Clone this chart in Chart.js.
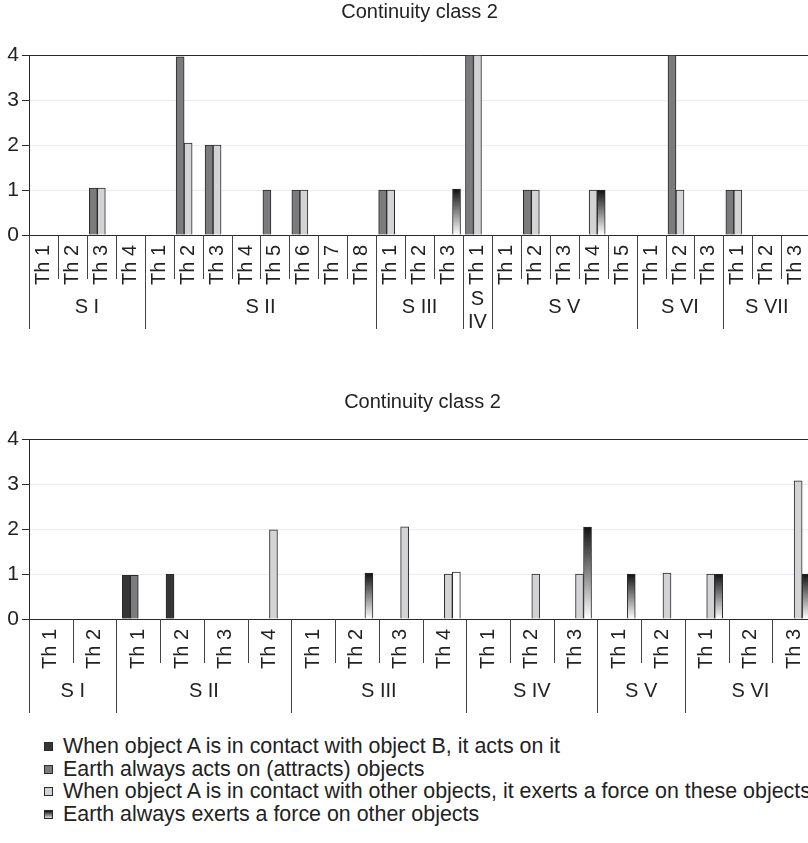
<!DOCTYPE html>
<html>
<head>
<meta charset="utf-8">
<title>Continuity class 2</title>
<script src="https://cdn.jsdelivr.net/npm/chart.js@4.4.1/dist/chart.umd.min.js"></script>
<style>
  html, body { margin: 0; padding: 0; background: #fff; width: 808px; height: 843px; overflow: hidden; }
  body { position: relative; font-family: 'Liberation Sans', Arial, Helvetica, sans-serif; color: #222; }
  .panel { position: absolute; left: 0; width: 830px; height: 340px; }
  #topPanel { top: 0; }
  #bottomPanel { top: 384px; }
  #legend { position: absolute; left: 44px; top: 735px; font-size: 21.4px; line-height: 22.7px; white-space: nowrap; }
  .item { position: relative; padding-left: 19px; }
  .box { position: absolute; left: 0; top: 7px; width: 7px; height: 7px; border: 1px solid #2a2a2a; }
</style>
</head>
<body>
<div class="panel" id="topPanel"><canvas id="topChart" width="830" height="340"></canvas></div>
<div class="panel" id="bottomPanel"><canvas id="bottomChart" width="830" height="340"></canvas></div>
<div id="legend"></div>

<script>
// Séries (légende commune aux deux graphiques)
const seriesNames = [
    'When object A is in contact with object B, it acts on it',
    'Earth always acts on (attracts) objects',
    'When object A is in contact with other objects, it exerts a force on these objects',
    'Earth always exerts a force on other objects'
];

// Graphique du haut
const topTitle = 'Continuity class 2';
const topLabels = [
    'Th 1', 'Th 2', 'Th 3', 'Th 4',
    'Th 1', 'Th 2', 'Th 3', 'Th 4', 'Th 5', 'Th 6', 'Th 7', 'Th 8',
    'Th 1', 'Th 2', 'Th 3',
    'Th 1',
    'Th 1', 'Th 2', 'Th 3', 'Th 4', 'Th 5',
    'Th 1', 'Th 2', 'Th 3',
    'Th 1', 'Th 2', 'Th 3'
];
const topGroupNames = ['S I', 'S II', 'S III', 'S IV', 'S V', 'S VI', 'S VII'];
const topGroupSizes = [4, 8, 3, 1, 5, 3, 3];
const topS1 = [null, null, null, null, null, null, null, null, null, null, null, null, null, null, null, null, null, null, null, null, null, null, null, null, null, null, null];
const topS2 = [null, null, 1.04, null, null, 3.96, 2, null, 1, 1, null, null, 1, null, null, 4, null, 1, null, null, null, null, 4, null, 1, null, null];
const topS3 = [null, null, 1.04, null, null, 2.04, 2, null, null, 1, null, null, 1, null, null, 4, null, 1, null, 1, null, null, 1, null, 1, null, null];
const topS4 = [null, null, null, null, null, null, null, null, null, null, null, null, null, null, 1.02, null, null, null, null, 1, null, null, null, null, null, null, null];
// cinquième série vide du classeur d'origine (garde la place dans chaque groupe)
const topS5 = [];

// Graphique du bas
const bottomTitle = 'Continuity class 2';
const bottomLabels = [
    'Th 1', 'Th 2',
    'Th 1', 'Th 2', 'Th 3', 'Th 4',
    'Th 1', 'Th 2', 'Th 3', 'Th 4',
    'Th 1', 'Th 2', 'Th 3',
    'Th 1', 'Th 2',
    'Th 1', 'Th 2', 'Th 3'
];
const bottomGroupNames = ['S I', 'S II', 'S III', 'S IV', 'S V', 'S VI'];
const bottomGroupSizes = [2, 4, 4, 3, 2, 3];
const bottomS1 = [null, null, 0.97, 0.99, null, null, null, null, null, null, null, null, null, null, null, null, null, null];
const bottomS2 = [null, null, 0.97, null, null, null, null, null, null, null, null, null, null, null, null, null, null, null];
const bottomS3 = [null, null, null, null, null, 1.98, null, null, 2.05, 1, null, 1, 1, null, 1.02, 1, null, 3.07];
const bottomS4 = [null, null, null, null, null, null, null, 1.02, null, 1.04, null, null, 2.04, 1, null, 1, null, 1];

const yTicks = [0, 1, 2, 3, 4];

Chart.defaults.font.family = "'Liberation Sans', Arial, Helvetica, sans-serif";
Chart.defaults.color = '#222';

const ink = '#2a2a2a';
const seriesColors = ['#363636', '#7b7b7d', '#d3d3d5'];

// Dégradé vertical noir -> blanc pour chaque barre
function fadeFill(c) {
    const chart = c.chart;
    const y = chart.scales.y;
    if (c.type !== 'data' || !y || !c.parsed || c.parsed.y == null) return '#777';
    const top = y.getPixelForValue(c.parsed.y);
    const base = y.getPixelForValue(0);
    if (!isFinite(top) || !isFinite(base) || top === base) return '#777';
    const g = chart.ctx.createLinearGradient(0, top, 0, base);
    g.addColorStop(0, '#111');
    g.addColorStop(1, '#fff');
    return g;
}

// Axe à deux niveaux + titre
const groupAxis = {
    id: 'groupAxis',
    afterDraw(chart, args, opts) {
        const { ctx, chartArea } = chart;
        const x = chart.scales.x;
        const half = (x.getPixelForValue(1) - x.getPixelForValue(0)) / 2;
        const bottom = chartArea.bottom;
        ctx.save();

        ctx.fillStyle = '#222';
        ctx.font = "20px 'Liberation Sans', Arial, sans-serif";
        ctx.textAlign = 'center';
        ctx.textBaseline = 'middle';
        ctx.fillText(opts.title, (chartArea.left + chartArea.right) / 2, opts.titleY);

        ctx.strokeStyle = '#444';
        ctx.lineWidth = 1;
        ctx.beginPath();
        ctx.moveTo(chartArea.left + 0.5, bottom);
        ctx.lineTo(chartArea.left + 0.5, bottom + 94);
        let start = 0;
        opts.sizes.forEach((n, g) => {
            const end = start + n;
            for (let i = start + 1; i <= end; i++) {
                const bx = Math.round(x.getPixelForValue(i) - half) + 0.5;
                ctx.moveTo(bx, bottom);
                ctx.lineTo(bx, bottom + (i === end ? 94 : 44));
            }
            start = end;
        });
        ctx.stroke();

        ctx.font = "20px 'Liberation Sans', Arial, sans-serif";
        start = 0;
        opts.sizes.forEach((n, g) => {
            const end = start + n;
            const cx = (x.getPixelForValue(start) + x.getPixelForValue(end - 1)) / 2;
            const name = opts.names[g];
            const lines = ctx.measureText(name).width > n * half * 2 - 6 ? name.split(' ') : [name];
            const y0 = bottom + 72 - (lines.length - 1) * 8;
            lines.forEach((t, k) => ctx.fillText(t, cx, y0 + k * 23));
            start = end;
        });
        ctx.restore();
    }
};

function makeChart(id, labels, series, names, sizes, title, titleY, rightPad, plainFade) {
    const datasets = series.map((data, k) => ({
        label: seriesNames[k] || '',
        data: data,
        backgroundColor: k === 3
            ? (c => plainFade.includes(c.dataIndex) ? '#fff' : fadeFill(c))
            : (seriesColors[k] || '#fff'),
        borderColor: ink,
        borderWidth: 1,
        barThickness: 8
    }));
    return new Chart(document.getElementById(id), {
        type: 'bar',
        data: { labels: labels, datasets: datasets },
        options: {
            responsive: false,
            animation: false,
            events: [],
            layout: { padding: { top: 55, right: rightPad, left: 0, bottom: 0 } },
            plugins: {
                legend: { display: false },
                tooltip: { enabled: false },
                groupAxis: { names: names, sizes: sizes, title: title, titleY: titleY }
            },
            scales: {
                x: {
                    offset: true,
                    grid: { display: false, drawTicks: false },
                    border: { display: false },
                    ticks: {
                        autoSkip: false,
                        minRotation: 90,
                        maxRotation: 90,
                        padding: 10,
                        color: '#222',
                        font: { size: 20 }
                    },
                    afterFit: s => { s.height = 105; }
                },
                y: {
                    min: 0,
                    max: 4,
                    afterBuildTicks: s => { s.ticks = yTicks.map(v => ({ value: v })); },
                    grid: {
                        color: c => (c.tick && (c.tick.value === 0 || c.tick.value === 4)) ? ink : '#ededed',
                        tickColor: ink,
                        tickLength: 7
                    },
                    border: { color: ink },
                    ticks: { padding: 3, color: '#222', font: { size: 21 } },
                    afterFit: s => { s.width = 29; }
                }
            }
        },
        plugins: [groupAxis]
    });
}

document.addEventListener('DOMContentLoaded', () => {
    makeChart('topChart', topLabels, [topS1, topS2, topS3, topS4, topS5],
        topGroupNames, topGroupSizes, topTitle, 12, 15, []);
    makeChart('bottomChart', bottomLabels, [bottomS1, bottomS2, bottomS3, bottomS4],
        bottomGroupNames, bottomGroupSizes, bottomTitle, 18, 14, [9]);

    // Légende HTML commune
    const legend = document.getElementById('legend');
    seriesNames.forEach((name, k) => {
        const row = document.createElement('div');
        row.className = 'item';
        const box = document.createElement('span');
        box.className = 'box';
        box.style.background = k === 3 ? 'linear-gradient(#111, #ddd)' : seriesColors[k];
        row.appendChild(box);
        row.appendChild(document.createTextNode(name));
        legend.appendChild(row);
    });
});
</script>
</body>
</html>
